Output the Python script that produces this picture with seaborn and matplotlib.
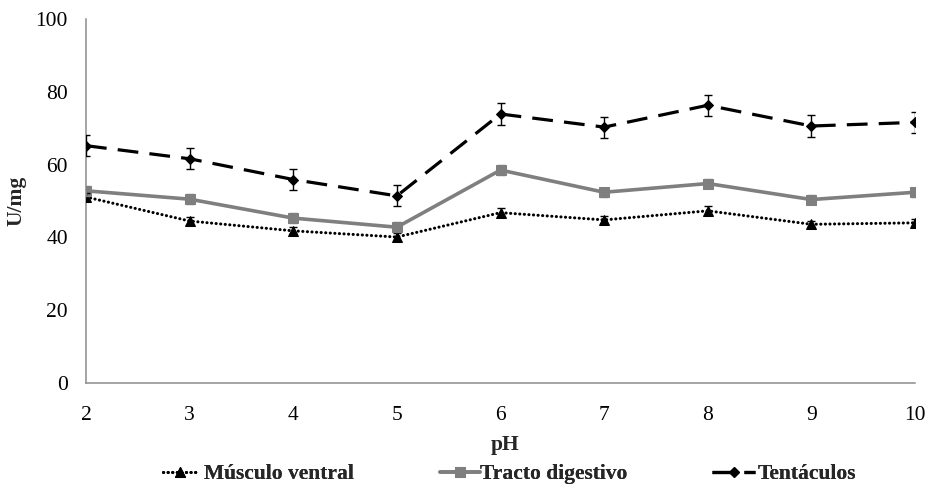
import numpy as np
import pandas as pd
import matplotlib
matplotlib.use("Agg")
import matplotlib.pyplot as plt
import seaborn as sns

ph = [2, 3, 4, 5, 6, 7, 8, 9, 10]
musculo = [51.1, 44.5, 41.8, 40.1, 46.8, 44.8, 47.3, 43.6, 44.0]
musculo_err = [1.0, 1.0, 1.0, 1.0, 1.2, 1.0, 1.2, 1.0, 1.0]
tracto = [52.8, 50.5, 45.3, 42.8, 58.5, 52.4, 54.8, 50.4, 52.4]
tracto_err = [1.3, 1.3, 1.3, 1.3, 1.3, 1.3, 1.3, 1.3, 1.3]
tentaculos = [65.2, 61.6, 55.9, 51.4, 73.9, 70.3, 76.3, 70.6, 71.6]
tentaculos_err = [2.9, 2.9, 2.9, 2.9, 2.9, 2.9, 2.9, 2.9, 2.9]

names = ["Músculo ventral", "Tracto digestivo", "Tentáculos"]

sns.set_style("white")
plt.rcParams["font.family"] = ["Liberation Serif", "DejaVu Serif"]

df = pd.DataFrame({
    "pH": ph * 3,
    "U/mg": musculo + tracto + tentaculos,
    "serie": [names[0]] * 9 + [names[1]] * 9 + [names[2]] * 9,
})

W, H = 933, 488
fig = plt.figure(figsize=(W / 100, H / 100), dpi=100)
ax = fig.add_axes([86 / W, 1 - 383 / H, (915 - 86) / W, (383 - 19) / H])

grey = "#7f7f7f"
styles = {
    names[0]: dict(color="black", ls=(0, (0.05, 1.45)), lw=2.2, marker="^", ms=7,
                   cap="round", ecolor="black"),
    names[1]: dict(color=grey, ls="-", lw=2.6, marker="s", ms=7,
                   cap="butt", ecolor=grey),
    names[2]: dict(color="black", ls=(0, (6.5, 3.5)), lw=2.3, marker="D", ms=5.5,
                   cap="butt", ecolor="black"),
}
errs = {names[0]: musculo_err, names[1]: tracto_err, names[2]: tentaculos_err}

handles = {}
for name in names:
    sub = df[df["serie"] == name]
    st = styles[name]
    sns.lineplot(data=sub, x="pH", y="U/mg", ax=ax, color=st["color"],
                 linestyle=st["ls"], linewidth=st["lw"], marker=st["marker"],
                 markersize=st["ms"], markeredgecolor=st["color"],
                 markerfacecolor=st["color"], dash_capstyle=st["cap"],
                 label=name, zorder=3, legend=False)
    handles[name] = ax.lines[-1]
    ax.errorbar(sub["pH"], sub["U/mg"], yerr=errs[name], fmt="none",
                ecolor=st["ecolor"], elinewidth=1.0, capsize=3, capthick=1.0, zorder=4)

ax.set_xlim(2, 10)
ax.set_ylim(0, 100)
ax.set_xticks(ph)
ax.set_yticks([0, 20, 40, 60, 80, 100])
for s in ["top", "right"]:
    ax.spines[s].set_visible(False)
for s in ["left", "bottom"]:
    ax.spines[s].set_color("#8c8c8c")
    ax.spines[s].set_linewidth(1.1)
ax.tick_params(axis="both", direction="out", length=4.5, width=1.0,
               color="#8c8c8c", labelsize=15.5, labelcolor="black")
ax.tick_params(axis="x", pad=12)
ax.tick_params(axis="y", pad=8.5)

ax.set_xlabel("pH", fontsize=15.5, fontweight="bold")
ax.xaxis.set_label_coords((505 - 86) / 829, (383 - 445) / 364)
ax.xaxis.label.set_va("center")
ax.set_ylabel("U/mg", fontsize=15.5, fontweight="bold")
ax.yaxis.set_label_coords((16 - 86) / 829, 0.5)
ax.yaxis.label.set_va("center")

# one legend entry per series, spread along the bottom edge
legend_pos = {
    names[0]: dict(x=163, hl=1.6, pad=0.3),
    names[1]: dict(x=440, hl=1.85, pad=0.02),
    names[2]: dict(x=712, hl=2.0, pad=0.12),
}
y_leg = 1 - 474 / H
for name in names:
    p = legend_pos[name]
    leg = fig.legend([handles[name]], [name], loc="center left",
                     bbox_to_anchor=(p["x"] / W, y_leg), frameon=False,
                     prop={"size": 15.5, "weight": "bold"}, handlelength=p["hl"],
                     handletextpad=p["pad"], borderpad=0, borderaxespad=0)
    fig.add_artist(leg)

fig.savefig("out.png", dpi=100)
